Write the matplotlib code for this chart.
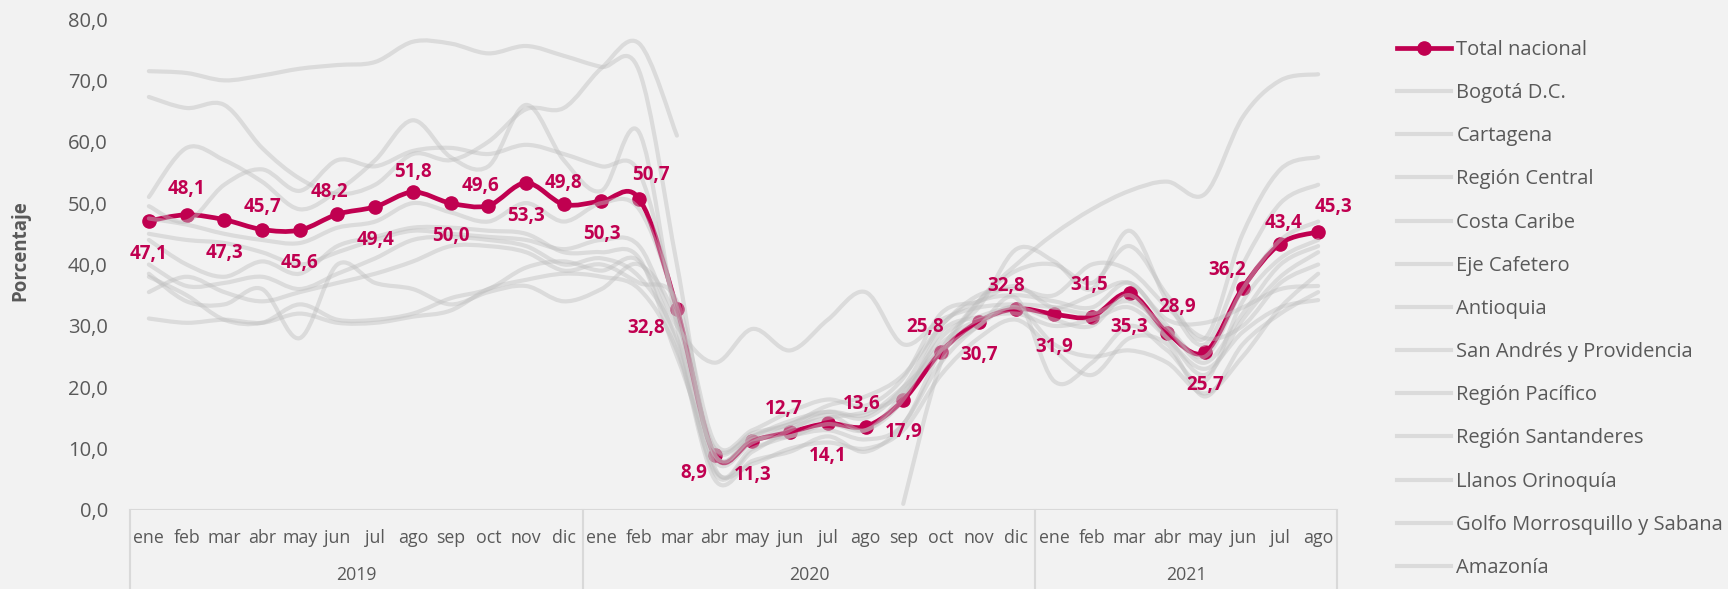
import matplotlib
matplotlib.use("Agg")
import matplotlib.pyplot as plt
import numpy as np
from matplotlib.lines import Line2D
from matplotlib.patches import PathPatch
from matplotlib.path import Path

nan = np.nan

MONTHS_2019 = ["ene", "feb", "mar", "abr", "may", "jun", "jul", "ago", "sep", "oct", "nov", "dic"]
MONTHS_2020 = list(MONTHS_2019)
MONTHS_2021 = ["ene", "feb", "mar", "abr", "may", "jun", "jul", "ago"]
YEARS = ["2019", "2020", "2021"]

TOTAL_LABEL = "Total nacional"
total_nacional = [47.1, 48.1, 47.3, 45.7, 45.6, 48.2, 49.4, 51.8, 50.0, 49.6, 53.3, 49.8,
                  50.3, 50.7, 32.8, 8.9, 11.3, 12.7, 14.1, 13.6, 17.9, 25.8, 30.7, 32.8,
                  31.9, 31.5, 35.3, 28.9, 25.7, 36.2, 43.4, 45.3]

REGIONS = ["Bogotá D.C.", "Cartagena", "Región Central", "Costa Caribe", "Eje Cafetero",
           "Antioquia", "San Andrés y Providencia", "Región Pacífico", "Región Santanderes",
           "Llanos Orinoquía", "Golfo Morrosquillo y Sabana", "Amazonía"]

bogota = [47.5, 46.5, 45.0, 44.0, 43.5, 46.0, 47.0, 50.0, 48.5, 47.0, 50.0, 47.0,
          50.0, 49.0, 33.0, 9.0, 12.0, 14.5, 16.0, 15.0, 20.0, 30.0, 34.0, 35.0,
          34.0, 33.0, 37.0, 30.0, 25.0, 36.0, 44.0, 47.0]
cartagena = [71.5, 71.2, 70.0, 70.8, 71.9, 72.5, 73.0, 76.3, 76.0, 74.4, 75.6, 74.0,
             72.2, 71.5, 40.0, 7.0, 10.0, 12.0, 13.0, 11.5, 14.0, 26.0, 34.0, 39.0,
             40.0, 37.0, 43.0, 35.0, 28.0, 45.0, 55.5, 57.5]
region_central = [45.0, 44.0, 43.5, 42.0, 40.0, 42.0, 44.0, 45.5, 45.0, 44.5, 44.0, 42.5,
                  44.0, 43.0, 30.0, 24.0, 29.5, 26.0, 31.0, 35.5, 27.0, 31.0, 33.0, 33.5,
                  33.0, 32.0, 34.0, 29.5, 24.0, 32.0, 40.0, 43.0]
costa_caribe = [51.0, 59.0, 57.0, 53.5, 49.0, 52.0, 57.0, 63.5, 57.5, 56.0, 66.0, 57.0,
                52.0, 61.5, 30.0, 6.0, 9.5, 13.0, 15.5, 13.0, 19.0, 28.0, 33.0, 42.5,
                40.5, 36.0, 45.5, 34.0, 27.0, 40.0, 50.0, 53.0]
eje_cafetero = [40.0, 36.5, 37.0, 38.0, 36.0, 38.5, 41.0, 44.0, 44.5, 44.0, 43.0, 40.0,
                41.0, 38.0, 28.0, 8.0, 11.0, 13.5, 15.0, 16.0, 19.0, 27.0, 31.0, 32.0,
                30.0, 31.0, 33.0, 28.0, 22.0, 31.0, 38.0, 42.0]
antioquia = [38.5, 34.0, 33.5, 36.0, 28.0, 40.0, 37.0, 36.0, 33.5, 35.5, 36.5, 34.0,
             36.0, 40.0, 31.0, 10.0, 12.5, 14.0, 17.0, 18.5, 22.0, 30.0, 35.0, 36.0,
             35.0, 40.0, 39.0, 33.0, 28.0, 30.0, 37.0, 40.0]
san_andres = [67.3, 65.5, 66.0, 59.0, 54.0, 51.5, 53.0, 58.0, 57.0, 60.0, 65.3, 65.5,
              72.0, 76.0, 61.0, nan, nan, nan, nan, nan, 1.0, 24.0, 34.0, 40.0,
              45.0, 49.0, 52.0, 53.5, 51.5, 64.0, 70.0, 71.0]
region_pacifico = [38.0, 35.0, 31.0, 30.5, 33.5, 31.0, 31.0, 32.0, 34.5, 36.0, 39.5, 40.5,
                   39.0, 40.5, 27.0, 5.0, 8.0, 9.5, 12.0, 9.5, 14.0, 24.0, 30.0, 33.0,
                   27.0, 25.0, 26.0, 24.0, 19.0, 25.0, 33.0, 38.5]
region_santanderes = [35.5, 38.0, 35.5, 34.0, 35.5, 37.0, 38.5, 40.5, 43.0, 43.0, 42.0, 39.0,
                      40.0, 37.0, 34.0, 11.0, 13.0, 16.0, 18.0, 17.0, 21.5, 32.0, 34.0, 36.5,
                      33.0, 35.0, 37.0, 31.0, 30.5, 33.0, 36.0, 36.5]
llanos_orinoquia = [31.2, 30.5, 31.0, 30.5, 32.0, 30.5, 30.5, 31.5, 32.5, 36.0, 37.5, 38.5,
                    38.0, 36.0, 26.0, 6.5, 7.5, 10.0, 11.0, 10.0, 13.0, 22.0, 28.0, 31.0,
                    26.0, 22.0, 28.0, 27.0, 18.5, 27.0, 32.0, 35.5]
golfo_morrosquillo = [49.5, 47.0, 53.0, 55.5, 52.0, 57.0, 56.0, 58.5, 59.0, 58.0, 59.5, 58.0,
                      56.0, 55.0, 32.0, 9.0, 11.5, 12.0, 14.0, 13.0, 18.0, 29.0, 31.5, 33.0,
                      31.0, 30.0, 35.0, 28.0, 23.0, 29.0, 33.0, 34.2]
amazonia = [44.0, 40.0, 38.0, 40.5, 38.5, 43.0, 44.5, 46.0, 46.0, 45.5, 45.0, 42.0,
            42.0, 41.0, 25.0, 10.0, 12.0, 14.0, 16.0, 15.5, 20.0, 26.0, 30.0, 34.5,
            21.0, 24.0, 30.0, 26.0, 21.0, 34.0, 41.0, 44.0]

region_values = [bogota, cartagena, region_central, costa_caribe, eje_cafetero, antioquia,
                 san_andres, region_pacifico, region_santanderes, llanos_orinoquia,
                 golfo_morrosquillo, amazonia]

# label placement around each marker, pixels (dx, dy)
label_offsets = [(0, -33), (0, 26), (0, -33), (0, 23), (0, -33), (-8, 22), (0, -33), (0, 20),
                 (0, -33), (-8, 20), (0, -33), (0, 21), (0, -33), (12, 24), (-31, -19), (-21, -18),
                 (0, -34), (-6, 23), (0, -33), (-4, 23), (0, -32), (-16, 25), (0, -33), (-10, 23),
                 (0, -33), (-3, 32), (0, -34), (10, 26), (0, -33), (-16, 18), (3, 21), (15, 25)]

CRIMSON = "#C00050"
GREY_LINE = "#BFBFBF"
TEXT_GREY = "#595959"
AXIS_GREY = "#D9D9D9"
BG = "#F2F2F2"

plt.rcParams["font.family"] = ["Open Sans", "DejaVu Sans"]


def smooth_path(x, y):
    """Smoothed line through the points (cubic Bezier, Catmull-Rom tangents)."""
    pts = np.column_stack([x, y])
    n = len(pts)
    verts = [pts[0]]
    codes = [Path.MOVETO]
    for i in range(n - 1):
        p0 = pts[max(i - 1, 0)]
        p1 = pts[i]
        p2 = pts[i + 1]
        p3 = pts[min(i + 2, n - 1)]
        verts += [p1 + (p2 - p0) / 6.0, p2 - (p3 - p1) / 6.0, p2]
        codes += [Path.CURVE4] * 3
    return Path(verts, codes)


def add_smooth_line(ax, x, y, **kw):
    y = np.asarray(y, dtype=float)
    ok = ~np.isnan(y)
    # split into runs without gaps
    start = None
    for i in range(len(y) + 1):
        if i < len(y) and ok[i]:
            if start is None:
                start = i
        elif start is not None:
            if i - start > 1:
                patch = PathPatch(smooth_path(x[start:i], y[start:i]), fill=False, **kw)
                ax.add_patch(patch)
            start = None


months = MONTHS_2019 + MONTHS_2020 + MONTHS_2021
x = np.arange(len(months), dtype=float)

fig = plt.figure(figsize=(17.28, 5.89), dpi=100, facecolor=BG)
ax = fig.add_axes([130 / 1728, 79 / 589, 1207 / 1728, 491 / 589])
ax.set_facecolor(BG)

# national total sits underneath the regional lines
add_smooth_line(ax, x, total_nacional, edgecolor=CRIMSON, lw=3.4,
                capstyle="round", joinstyle="round", zorder=2)
ax.plot(x, total_nacional, "o", ms=9.5, color=CRIMSON, zorder=2)

for vals in region_values:
    add_smooth_line(ax, x, vals, edgecolor=GREY_LINE, lw=3.0, alpha=0.45,
                    capstyle="round", joinstyle="round", zorder=3)

px = 72 / fig.dpi
for xi, v, (dx, dy) in zip(x, total_nacional, label_offsets):
    ax.annotate(f"{v:.1f}".replace(".", ","), (xi, v), xytext=(dx * px, dy * px),
                textcoords="offset points", ha="center", va="center",
                fontsize=13.5, fontweight="bold", color=CRIMSON, zorder=5)

ax.set_xlim(-0.5, len(months) - 0.5)
ax.set_ylim(0, 80)
ax.set_yticks(np.arange(0, 81, 10))
ax.set_yticklabels([f"{t:.1f}".replace(".", ",") for t in np.arange(0, 81, 10)])
ax.set_xticks(x)
ax.set_xticklabels(months)
ax.tick_params(axis="y", length=0, pad=16, labelsize=14.5, labelcolor=TEXT_GREY)
ax.tick_params(axis="x", length=0, pad=14, labelsize=12.8, labelcolor=TEXT_GREY)
for s in ax.spines.values():
    s.set_visible(False)

# category axis: baseline plus year separators below it
ax.axhline(0, color=AXIS_GREY, lw=1.5, zorder=1)
trans = ax.get_xaxis_transform()
bottom = -79 / 491
for b in [-0.5, 11.5, 23.5, len(months) - 0.5]:
    ax.plot([b, b], [0, bottom], transform=trans, color=AXIS_GREY, lw=1.5, clip_on=False)
year_spans = [(0, 11), (12, 23), (24, len(months) - 1)]
for year, (a, b) in zip(YEARS, year_spans):
    ax.text((a + b) / 2, -65 / 491, year, transform=trans, ha="center", va="center",
            fontsize=12.8, color=TEXT_GREY)

fig.text(20 / 1728, 1 - 251 / 589, "Porcentaje", rotation=90, ha="center", va="center",
         fontsize=13.5, fontweight="bold", color=TEXT_GREY)

handles = [Line2D([], [], color=CRIMSON, lw=3.4, marker="o", ms=9.5)]
handles += [Line2D([], [], color=GREY_LINE, lw=3.0, alpha=0.45) for _ in REGIONS]
fig.legend(handles, [TOTAL_LABEL] + REGIONS, loc="upper left",
           bbox_to_anchor=(1397 / 1728, 1 - 40 / 589), frameon=False, fontsize=14.5,
           labelcolor=TEXT_GREY, handlelength=2.7, handletextpad=0.25,
           labelspacing=1.15, borderpad=0, borderaxespad=0, numpoints=1)

fig.savefig("out.png", dpi=100, facecolor=BG)
